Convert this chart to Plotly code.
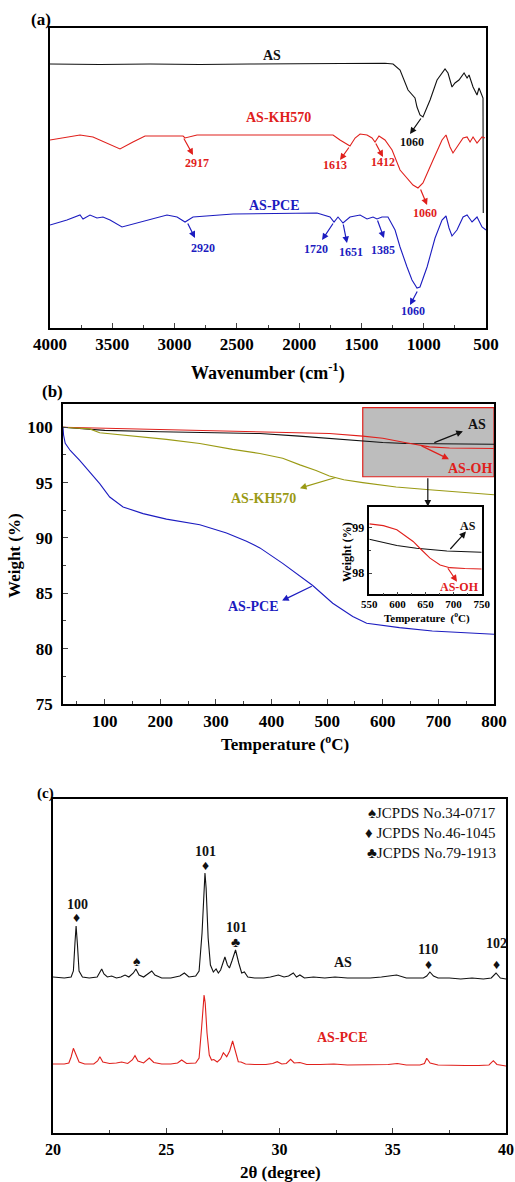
import plotly.graph_objects as go

# ---------------- (a) FTIR data (wavenumber cm-1, transmittance a.u.) ----------------
ir_as_wn = [4000, 3599, 3197, 2796, 2394, 1993, 1592, 1311, 1246, 1190, 1126, 1070, 1054, 1030, 1006,
            949, 893, 829, 805, 773, 749, 717, 676, 652, 636, 604, 572, 556, 524, 522]
ir_as_t = [264, 263.5, 264, 263.5, 264, 264.5, 264.7, 264.7, 264, 258, 238, 230, 221, 213, 211,
           228, 248, 259, 255, 241, 245, 248, 255, 250, 253, 241, 233, 240, 230, 115]

ir_kh_wn = [4000, 3759, 3655, 3542, 3438, 3334, 3237, 2932, 2916, 2820, 2394, 1993, 1728, 1672, 1592,
            1551, 1511, 1455, 1415, 1391, 1359, 1311, 1254, 1190, 1134, 1086, 1046, 1006, 925, 853,
            821, 789, 765, 725, 684, 652, 628, 604, 572, 532, 508]
ir_kh_t = [188, 193, 191, 185, 179, 186, 192, 192, 190, 193, 193, 193, 193, 188, 182,
           190, 194, 193, 190, 186, 192, 188, 178, 158, 150, 143, 140, 145, 168, 188,
           193, 181, 175, 183, 190, 191, 186, 191, 185, 191, 190]

ir_pce_wn = [4000, 3864, 3759, 3735, 3679, 3623, 3575, 3518, 3422, 3277, 3061, 2980, 2916, 2852, 2531,
             1857, 1752, 1720, 1688, 1648, 1592, 1511, 1455, 1407, 1375, 1335, 1287, 1230, 1190, 1134,
             1094, 1054, 1030, 973, 909, 853, 821, 797, 773, 733, 684, 652, 612, 572, 532, 500]
ir_pce_t = [103, 108, 113, 109, 113, 110, 111, 108, 101, 106, 113, 111, 106, 111, 114,
            115, 111, 106, 111, 105, 111, 113, 109, 111, 109, 111, 111, 98, 81, 61,
            48, 40, 41, 61, 90, 108, 112, 100, 92, 98, 111, 113, 106, 111, 101, 98]

ir_ticks = [4000, 3500, 3000, 2500, 2000, 1500, 1000, 500]

# ---------------- (b) TGA data (temperature C, weight %) ----------------
tg_as_T = [25, 60, 100, 200, 300, 379, 450, 504, 564, 600, 642, 700, 800]
tg_as_w = [100, 99.85, 99.72, 99.6, 99.5, 99.43, 99.2, 98.98, 98.74, 98.62, 98.53, 98.5, 98.46]

tg_oh_T = [25, 100, 200, 300, 379, 450, 504, 564, 600, 642, 684, 720, 800]
tg_oh_w = [100, 99.9, 99.8, 99.7, 99.57, 99.5, 99.43, 99.2, 99.0, 98.6, 98.23, 98.12, 98.08]

tg_kh_T = [25, 50, 73, 91, 151, 211, 271, 330, 379, 420, 451, 480, 504, 530, 564, 624, 684, 744, 800]
tg_kh_w = [100, 99.95, 99.85, 99.5, 99.2, 98.9, 98.53, 98.0, 97.63, 97.2, 96.6, 96.1, 95.6, 95.25,
           95.0, 94.6, 94.35, 94.1, 93.9]

tg_pce_T = [25, 26, 29, 38, 55, 70, 91, 109, 133, 169, 211, 271, 319, 355, 379, 420, 450, 474, 510,
            546, 571, 630, 689, 800]
tg_pce_w = [100, 99.3, 98.55, 97.9, 97.0, 96.1, 94.9, 93.7, 92.8, 92.2, 91.7, 91.2, 90.45, 89.7,
            89.1, 87.7, 86.6, 85.7, 84.1, 82.9, 82.3, 81.9, 81.6, 81.3]

# inset (550-750 C)
in_as_T = [550, 599, 634, 688, 750]
in_as_w = [98.75, 98.61, 98.55, 98.49, 98.46]
in_oh_T = [550, 575, 599, 628, 640, 658, 676, 693, 720, 750]
in_oh_w = [99.09, 99.05, 98.96, 98.7, 98.55, 98.33, 98.18, 98.12, 98.1, 98.09]

# ---------------- (c) XRD data (2theta, intensity a.u.) ----------------
xrd_as_2t = [20.0, 20.5, 20.8, 20.9, 20.97, 21.02, 21.08, 21.15, 21.3, 21.6, 21.95, 22.1, 22.15, 22.25,
             22.4, 22.59, 22.8, 23.0, 23.18, 23.35, 23.55, 23.66, 23.8, 24.0, 24.2, 24.36, 24.5, 24.8,
             25.2, 25.6, 25.8, 26.0, 26.3, 26.45, 26.58, 26.67, 26.71, 26.76, 26.85, 26.95, 27.08,
             27.2, 27.3, 27.4, 27.59, 27.7, 27.79, 27.9, 28.06, 28.2, 28.33, 28.45, 28.6, 28.9, 29.3,
             29.6, 29.95, 30.2, 30.4, 30.61, 30.75, 30.9, 31.1, 31.5, 32.0, 32.45, 33.0, 33.5, 34.0,
             34.5, 35.17, 35.6, 36.0, 36.35, 36.5, 36.64, 36.8, 37.0, 37.5, 38.0, 38.5, 39.0, 39.35,
             39.56, 39.75, 40.0]
xrd_as_i = [156, 155, 156, 162, 190, 207, 188, 162, 156, 155, 156, 162, 164, 159,
            156, 157, 155, 156, 158, 156, 160, 164, 158, 156, 159, 162, 158, 155,
            155, 157, 160, 156, 157, 162, 200, 250, 260, 245, 195, 168, 161,
            164, 160, 163, 176, 168, 165, 172, 183, 170, 160, 161, 156, 155, 155,
            156, 158, 156, 157, 160, 156, 158, 155, 156, 155, 156, 155, 155, 155,
            156, 158, 155, 155, 155, 157, 161, 157, 155, 155, 154, 155, 154, 155,
            160, 155, 154]

xrd_pce_2t = [20.0, 20.5, 20.7, 20.8, 20.9, 21.0, 21.15, 21.4, 21.8, 21.97, 22.07, 22.2, 22.5, 22.8,
              23.03, 23.3, 23.5, 23.62, 23.75, 24.0, 24.25, 24.45, 24.8, 25.2, 25.5, 25.68, 25.9,
              26.3, 26.45, 26.56, 26.63, 26.67, 26.72, 26.8, 26.9, 27.0, 27.1, 27.25, 27.4, 27.52,
              27.67, 27.8, 27.93, 28.05, 28.18, 28.3, 28.5, 28.9, 29.4, 29.7, 29.9, 30.1, 30.3,
              30.49, 30.65, 30.9, 31.2, 31.8, 32.4, 33.0, 33.6, 34.2, 34.8, 35.2, 35.6, 36.2, 36.4,
              36.5, 36.65, 37.0, 37.6, 38.2, 38.8, 39.25, 39.44, 39.6, 40.0]
xrd_pce_i = [69, 69, 70, 76, 84.7, 79, 71, 69, 69, 72, 76.3, 71, 69.5, 70,
             71, 69.5, 73, 77.3, 72, 70, 75, 70.5, 69, 69, 70, 73, 69.5,
             70, 75, 105, 132, 138, 130, 100, 78, 73, 73.5, 71, 74, 80.3,
             76.3, 82, 92, 82, 71.3, 71, 69, 68.5, 68.5, 69.5, 71.3, 69, 69.5,
             73.7, 70, 70.5, 68.5, 68.5, 69, 68, 68, 68, 68.5, 69.5, 68, 68, 69.5,
             74.7, 70, 68, 67.5, 67.5, 67.5, 68, 72.3, 68.5, 67]

xrd_ticks = [20, 25, 30, 35, 40]
legend_lines = ["\u2660JCPDS No.34-0717", "\u2666 JCPDS No.46-1045", "\u2663JCPDS No.79-1913"]

# ---------------- styles ----------------
SERIF = "Liberation Serif"
BLACK = "#111111"
RED = "#e0201c"
BLUE = "#1c1cc0"
OLIVE = "#9a9a14"
LW = 1.1

fig = go.Figure()


def line(x, y, color, xa, ya, width=LW):
    fig.add_trace(go.Scatter(x=x, y=y, mode="lines", line=dict(color=color, width=width),
                             xaxis=xa, yaxis=ya, showlegend=False, hoverinfo="skip"))


# (a)
line(ir_as_wn, ir_as_t, BLACK, "x", "y")
line(ir_kh_wn, ir_kh_t, RED, "x", "y")
line(ir_pce_wn, ir_pce_t, BLUE, "x", "y")
# (b)
line(tg_as_T, tg_as_w, BLACK, "x2", "y2")
line(tg_oh_T, tg_oh_w, RED, "x2", "y2")
line(tg_kh_T, tg_kh_w, OLIVE, "x2", "y2")
line(tg_pce_T, tg_pce_w, BLUE, "x2", "y2")
# inset
line(in_as_T, in_as_w, BLACK, "x3", "y3")
line(in_oh_T, in_oh_w, RED, "x3", "y3")
# (c)
line(xrd_as_2t, xrd_as_i, BLACK, "x4", "y4")
line(xrd_pce_2t, xrd_pce_i, RED, "x4", "y4")

frame = dict(showline=True, mirror=True, linecolor="black", linewidth=1.5, showgrid=False,
             zeroline=False, automargin=False)


def tf(size):
    return dict(family=SERIF, size=size, color="black", weight="bold")


fig.update_layout(
    width=515, height=1182, margin=dict(l=0, r=0, t=0, b=0, autoexpand=False),
    paper_bgcolor="white", plot_bgcolor="white", showlegend=False,
    xaxis=dict(**frame, domain=[0.09709, 0.94369], anchor="y", range=[4000, 500],
               tickvals=ir_ticks, ticks="inside", ticklen=5, tickwidth=1.2,
               minor=dict(ticks="inside", ticklen=3, dtick=250, tickwidth=1.2),
               tickfont=tf(17), ticklabelstandoff=0),
    yaxis=dict(**frame, domain=[0.72250, 0.97631], anchor="x", range=[0, 300],
               showticklabels=False, ticks=""),
    xaxis2=dict(**frame, domain=[0.12233, 0.95922], anchor="y2", range=[25, 800],
                tickvals=[100, 200, 300, 400, 500, 600, 700, 800], ticks="inside", ticklen=5,
                tickwidth=1.2, minor=dict(ticks="inside", ticklen=3,
                                          tickvals=[50, 150, 250, 350, 450, 550, 650, 750], tickwidth=1.2),
                tickfont=tf(17), ticklabelstandoff=1),
    yaxis2=dict(**frame, domain=[0.40440, 0.65821], anchor="x2", range=[75, 102.1],
                tickvals=[75, 80, 85, 90, 95, 100], ticks="inside", ticklen=5, tickwidth=1.2,
                minor=dict(ticks="inside", ticklen=3, tickvals=[77.5, 82.5, 87.5, 92.5, 97.5], tickwidth=1.2),
                tickfont=tf(17), ticklabelstandoff=5),
    xaxis3=dict(**frame, domain=[0.71709, 0.93534], anchor="y3", range=[550, 750],
                tickvals=[550, 600, 650, 700, 750], ticks="inside", ticklen=3, tickwidth=1,
                minor=dict(ticks="inside", ticklen=2, dtick=25, tickwidth=1),
                tickfont=tf(11), ticklabelstandoff=-1),
    yaxis3=dict(**frame, domain=[0.49721, 0.57132], anchor="x3", range=[97.53, 99.47],
                tickvals=[98, 99], ticks="inside", ticklen=3, tickwidth=1,
                minor=dict(ticks="inside", ticklen=2, dtick=0.5, tickwidth=1),
                tickfont=tf(12), ticklabelstandoff=1),
    xaxis4=dict(**frame, domain=[0.10291, 0.98252], anchor="y4", range=[20, 40],
                tickvals=xrd_ticks, ticks="inside", ticklen=5, tickwidth=1.2,
                minor=dict(ticks="inside", ticklen=3, dtick=2.5, tickwidth=1.2),
                tickfont=tf(16), ticklabelstandoff=1),
    yaxis4=dict(**frame, domain=[0.04146, 0.32403], anchor="x4", range=[0, 334],
                showticklabels=False, ticks=""),
)

# gray highlight box in (b)
fig.add_shape(type="rect", xref="x2", yref="y2", x0=564, x1=800, y0=95.53, y1=101.77,
              fillcolor="#bdbdbd", line=dict(color=RED, width=1.2), layer="below")


def txt(x, y, s, color, size, xref, yref, bold=True, xanchor="center", angle=0):
    fig.add_annotation(x=x, y=y, xref=xref, yref=yref, text=s, showarrow=False,
                       xanchor=xanchor, yanchor="middle", textangle=angle,
                       font=dict(family=SERIF, size=size, color=color,
                                 weight="bold" if bold else "normal"))


def arrow(tx, ty, hx, hy, color, xa, ya):
    fig.add_annotation(x=hx, y=hy, ax=tx, ay=ty, xref=xa, yref=ya, axref=xa, ayref=ya,
                       text="", showarrow=True, arrowhead=2, arrowsize=1.1, arrowwidth=1.2,
                       arrowcolor=color)


# panel letters & axis titles
txt(0.0796, 0.9839, "(a)", "black", 17, "paper", "paper")
txt(0.1010, 0.6684, "(b)", "black", 17, "paper", "paper")
txt(0.0874, 0.3283, "(c)", "black", 15, "paper", "paper")
txt(0.5204, 0.6853, "Wavenumber (cm<sup>-1</sup>)", "black", 18, "paper", "paper")
txt(0.5534, 0.3714, "Temperature (<sup>o</sup>C)", "black", 17, "paper", "paper")
txt(0.0291, 0.5305, "Weight (%)", "black", 17, "paper", "paper", angle=-90)
txt(0.5437, 0.00846, "2\u03b8 (degree)", "black", 17, "paper", "paper")
txt(0.6738, 0.5330, "Weight (%)", "black", 12, "paper", "paper", angle=-90)
txt(0.8285, 0.4780, "Temperature  (<sup>o</sup>C)", "black", 11, "paper", "paper")

# (a) labels
txt(2218, 273, "AS", BLACK, 14, "x", "y")
txt(2162, 211, "AS-KH570", RED, 14, "x", "y")
txt(2194, 123, "AS-PCE", BLUE, 14, "x", "y")
for wn, v, s, c in [(1094, 186, "1060", BLACK), (2820, 165, "2917", RED), (1712, 163, "1613", RED),
                    (1327, 166, "1412", RED), (989, 115, "1060", RED), (2772, 80, "2920", BLUE),
                    (1865, 79, "1720", BLUE), (1584, 76, "1651", BLUE), (1327, 78, "1385", BLUE),
                    (1086, 17, "1060", BLUE)]:
    txt(wn, v, s, c, 12, "x", "y")
for t, h, c in [((1014, 211), (1110, 194), BLACK), ((2932, 191), (2852, 173), RED),
                ((1592, 182), (1672, 168), RED), ((1391, 186), (1327, 171), RED),
                ((1030, 140), (973, 123), RED), ((2900, 106), (2836, 90), BLUE),
                ((1720, 106), (1816, 88), BLUE), ((1648, 105), (1616, 85), BLUE),
                ((1375, 109), (1319, 90), BLUE), ((1046, 38), (1110, 23), BLUE)]:
    arrow(t[0], t[1], h[0], h[1], c, "x", "y")

# (b) labels
txt(769, 100.27, "AS", BLACK, 14, "x2", "y2")
txt(756, 96.31, "AS-OH", RED, 14, "x2", "y2")
txt(385, 93.6, "AS-KH570", OLIVE, 14, "x2", "y2")
txt(367, 83.8, "AS-PCE", BLUE, 14, "x2", "y2")
arrow(690, 98.56, 744, 99.64, BLACK, "x2", "y2")
arrow(667, 98.38, 719, 97.12, RED, "x2", "y2")
arrow(518, 95.5, 451, 94.5, OLIVE, "x2", "y2")
arrow(475, 85.7, 419, 84.34, BLUE, "x2", "y2")
arrow(681, 95.53, 681, 92.83, BLACK, "x2", "y2")
# inset labels
txt(725.6, 99.05, "AS", BLACK, 12, "x3", "y3")
txt(711, 97.70, "AS-OH", RED, 12, "x3", "y3")
arrow(691.8, 98.50, 722, 98.92, BLACK, "x3", "y3")
arrow(688, 98.14, 706, 97.81, RED, "x3", "y3")

# (c) labels
for tt, v, s, c in [(21.06, 228, "100", BLACK), (26.75, 281, "101", BLACK), (28.12, 205, "101", BLACK),
                    (36.56, 183, "110", BLACK), (39.56, 189, "102", BLACK), (32.8, 170, "AS", BLACK),
                    (32.8, 95, "AS-PCE", RED)]:
    txt(tt, v, s, c, 14, "x4", "y4")
for tt, v, s in [(21.02, 215, "\u2666"), (26.75, 267, "\u2666"), (28.04, 190, "\u2663"),
                 (23.71, 171, "\u2660"), (36.56, 168, "\u2666"), (39.56, 168, "\u2666")]:
    txt(tt, v, s, BLACK, 14, "x4", "y4", bold=False)
for i, s in enumerate(legend_lines):
    txt(39.65, 320 - 20 * i, s, BLACK, 15, "x4", "y4", bold=False, xanchor="right")

fig.write_html("out.html", config={"displayModeBar": False},
               post_script="document.body.style.margin='0px';document.body.style.overflow='hidden';")
